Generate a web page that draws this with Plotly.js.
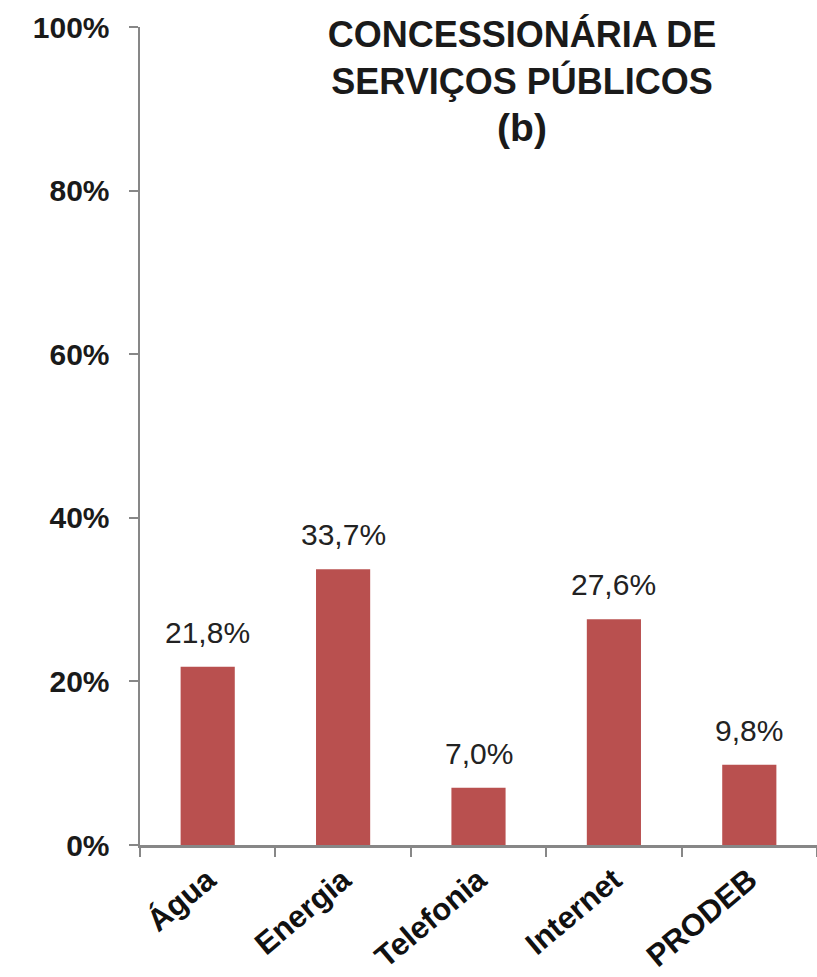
<!DOCTYPE html>
<html>
<head>
<meta charset="utf-8">
<script src="https://cdn.plot.ly/plotly-3.0.1.min.js"></script>
<style>html,body{margin:0;padding:0;background:#fff;}</style>
</head>
<body>
<div id="chart" style="width:817px;height:977px;"></div>
<script>
const categories = ['Água', 'Energia', 'Telefonia', 'Internet', 'PRODEB'];
const values = [21.8, 33.7, 7.0, 27.6, 9.8];
const yTicks = [0, 20, 40, 60, 80, 100];

const FONT = 'Liberation Sans, Arial, sans-serif';

const trace = {
  type: 'bar',
  x: categories,
  y: values,
  width: 0.4,
  marker: { color: '#B9504F', line: { width: 0 } },
  hoverinfo: 'skip'
};

const annotations = categories.map((c, i) => ({
  x: c, y: values[i], xref: 'x', yref: 'y',
  text: values[i].toFixed(1).replace('.', ',') + '%',
  showarrow: false, yanchor: 'bottom', yshift: 16,
  font: { family: FONT, size: 30, color: '#222222' }
}));

const layout = {
  width: 817, height: 977,
  margin: { l: 140, r: 0, t: 27, b: 132 },
  paper_bgcolor: '#ffffff', plot_bgcolor: '#ffffff',
  separators: ',.',
  showlegend: false,
  title: {
    text: '<b>CONCESSIONÁRIA DE<br>SERVIÇOS PÚBLICOS<br><span style="font-size:39px">(b)</span></b>',
    font: { family: FONT, size: 36, color: '#1a1a1a' },
    x: 522 / 817, xanchor: 'center',
    y: 1 - 47 / 977, yanchor: 'top'
  },
  xaxis: {
    type: 'category',
    showline: true, linecolor: '#878787', linewidth: 2.5,
    ticks: 'outside', tickson: 'boundaries', ticklen: 9, tickwidth: 2, tickcolor: '#878787',
    tickangle: -40,
    ticklabelstandoff: 2,
    tickfont: { family: FONT, size: 31, color: '#111111', weight: 'bold' },
    showgrid: false, zeroline: false, fixedrange: true
  },
  yaxis: {
    range: [0, 100],
    tickvals: yTicks,
    ticktext: yTicks.map(v => '<b>' + v + '%</b>'),
    showline: true, linecolor: '#878787', linewidth: 2.5,
    ticks: 'outside', ticklen: 9, tickwidth: 2, tickcolor: '#878787',
    ticklabelstandoff: 13,
    tickfont: { family: FONT, size: 30, color: '#1a1a1a' },
    showgrid: false, zeroline: false, fixedrange: true
  },
  annotations: annotations,
  font: { family: FONT }
};

Plotly.newPlot('chart', [trace], layout, { displayModeBar: false, staticPlot: true });
</script>
</body>
</html>
